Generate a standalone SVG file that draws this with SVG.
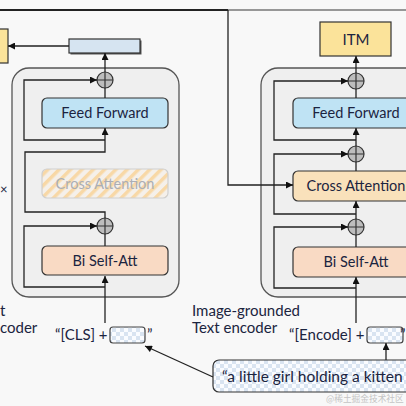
<svg xmlns="http://www.w3.org/2000/svg" width="406" height="406" viewBox="0 0 406 406">
<style>
text{font-family:Lato,"Open Sans","Liberation Sans",sans-serif;fill:#1b2440}
.lbl{font-size:14.5px;text-anchor:middle}
.cap{font-size:15px}
.box{stroke:#333;stroke-width:1.2}
.enc{fill:#efefef;stroke:#555;stroke-width:1.3}
.ln{fill:none;stroke:#222;stroke-width:1.3}
.arr{marker-end:url(#ah)}
.plus circle{fill:#bdbdbd;stroke:#333;stroke-width:1.2}
.plus path{stroke:#333;stroke-width:1.2}
</style>
<defs>
<marker id="ah" viewBox="0 0 10 10" refX="10" refY="5" markerWidth="8" markerHeight="7" markerUnits="userSpaceOnUse" orient="auto">
<path d="M0,0 L10,5 L0,10 z" fill="#111"/>
</marker>
<pattern id="chk" patternUnits="userSpaceOnUse" width="8" height="8">
<rect width="8" height="8" fill="#fafcff"/>
<rect width="4" height="4" fill="#d9e4f1"/>
<rect x="4" y="4" width="4" height="4" fill="#d9e4f1"/>
</pattern>
<pattern id="hatch" patternUnits="userSpaceOnUse" width="8" height="8" patternTransform="rotate(45)">
<rect width="8" height="8" fill="#f5f0ea"/>
<rect width="3.5" height="8" fill="#f8d8a6"/>
</pattern>
</defs>
<rect width="406" height="406" fill="#f8f8f8"/>
<line x1="0" y1="10" x2="228" y2="10" stroke="#222" stroke-width="2"/>
<line x1="228" y1="10" x2="406" y2="10" stroke="#777" stroke-width="1.5"/>

<g id="left-encoder">
<rect class="enc" x="12" y="68" width="167" height="229" rx="17"/>
</g>
<g id="right-encoder">
<rect class="enc" x="261" y="68" width="170" height="229" rx="17"/>
</g>

<g id="left-output">
<rect x="-2" y="29" width="10" height="34" fill="#fbe39a" class="box"/>
</g>
<g id="left-embed">
<rect x="70.5" y="40.5" width="71" height="14" fill="#555"/>
<rect x="69" y="39" width="71" height="14" fill="#d6e4f1" class="box"/>
</g>
<g id="left-ff">
<rect x="42" y="98" width="126" height="30" rx="5" fill="#bfe3f4" class="box"/>
<text class="lbl" x="105" y="118">Feed Forward</text>
</g>
<g id="left-ca">
<rect x="42" y="169" width="126" height="29" rx="5" fill="url(#hatch)" stroke="#cfcfcf" stroke-width="1.2"/>
<text class="lbl" x="105" y="189" style="fill:#abaeb5">Cross Attention</text>
</g>
<g id="left-bsa">
<rect x="42" y="246" width="126" height="29" rx="5" fill="#f9dac4" class="box"/>
<text class="lbl" x="105" y="266">Bi Self-Att</text>
</g>
<g id="left-plus-top" class="plus"><circle cx="105" cy="80" r="8"/><path d="M97,80H113M105,72V88"/></g>
<g id="left-plus-bottom" class="plus"><circle cx="105" cy="226" r="8"/><path d="M97,226H113M105,218V234"/></g>

<g id="right-itm">
<rect x="320" y="22" width="71" height="34" fill="#fbe39a" class="box"/>
<text x="356" y="45" style="font-size:15px;text-anchor:middle">ITM</text>
</g>
<g id="right-ff">
<rect x="293" y="98" width="126" height="30" rx="5" fill="#bfe3f4" class="box"/>
<text class="lbl" x="356" y="118">Feed Forward</text>
</g>
<g id="right-ca">
<rect x="293" y="171" width="126" height="30" rx="5" fill="#f9e1bb" class="box"/>
<text class="lbl" x="356" y="191">Cross Attention</text>
</g>
<g id="right-bsa">
<rect x="293" y="247" width="126" height="30" rx="5" fill="#f9dac4" class="box"/>
<text class="lbl" x="356" y="267">Bi Self-Att</text>
</g>
<g id="right-plus-top" class="plus"><circle cx="356" cy="81" r="8"/><path d="M348,81H364M356,73V89"/></g>
<g id="right-plus-mid" class="plus"><circle cx="356" cy="154" r="8"/><path d="M348,154H364M356,146V162"/></g>
<g id="right-plus-bottom" class="plus"><circle cx="356" cy="227" r="8"/><path d="M348,227H364M356,219V235"/></g>

<g id="labels">
<text x="0" y="194" style="font-size:13px">×</text>
<text x="0" y="316" class="cap">t</text>
<text x="0" y="333" class="cap">coder</text>
<text x="192" y="316" class="cap">Image-grounded</text>
<text x="192" y="333" class="cap">Text encoder</text>
</g>

<g id="left-input">
<text x="55" y="340" class="cap">“[CLS] +</text>
<rect x="110" y="327" width="35" height="16" rx="3" fill="url(#chk)" stroke="#444" stroke-width="1.2"/>
<text x="147" y="340" class="cap">”</text>
</g>
<g id="right-input">
<text x="289" y="340" class="cap">“[Encode] +</text>
<rect x="367" y="327" width="36" height="16" rx="3" fill="url(#chk)" stroke="#444" stroke-width="1.2"/>
<text x="400" y="340" class="cap">”</text>
</g>
<g id="caption">
<rect x="213" y="360" width="205" height="32" rx="6" fill="url(#chk)" stroke="#333" stroke-width="1.2"/>
<text x="222" y="382" style="font-size:15.5px">“a little girl holding a kitten</text>
</g>

<g id="connectors">
<path class="ln arr" d="M105,323V276"/>
<path class="ln arr" d="M105,287H24V226H97"/>
<path class="ln" d="M105,246V234"/>
<path class="ln arr" d="M105,218V212H25V152H105V128"/>
<path class="ln arr" d="M105,140H24V80H97"/>
<path class="ln" d="M105,98V88"/>
<path class="ln arr" d="M105,72V53"/>
<path class="ln arr" d="M69,46H8"/>

<path class="ln arr" d="M356,323V277"/>
<path class="ln arr" d="M356,288H274V227H348"/>
<path class="ln" d="M356,247V235"/>
<path class="ln arr" d="M356,219V201"/>
<path class="ln arr" d="M356,214H274V154H348"/>
<path class="ln" d="M356,171V162"/>
<path class="ln arr" d="M356,146V128"/>
<path class="ln arr" d="M356,140H274V81H348"/>
<path class="ln" d="M356,98V89"/>
<path class="ln arr" d="M356,73V56"/>
<path class="ln arr" d="M228,10V185H293"/>
<path class="ln arr" d="M386,360V343"/>
<path class="ln arr" d="M213,377L145,346"/>
</g>
<text x="326" y="402" style="font-family:'Noto Sans CJK SC',sans-serif;font-size:8.7px;fill:#c4c4c4">@稀土掘金技术社区</text>
</svg>
